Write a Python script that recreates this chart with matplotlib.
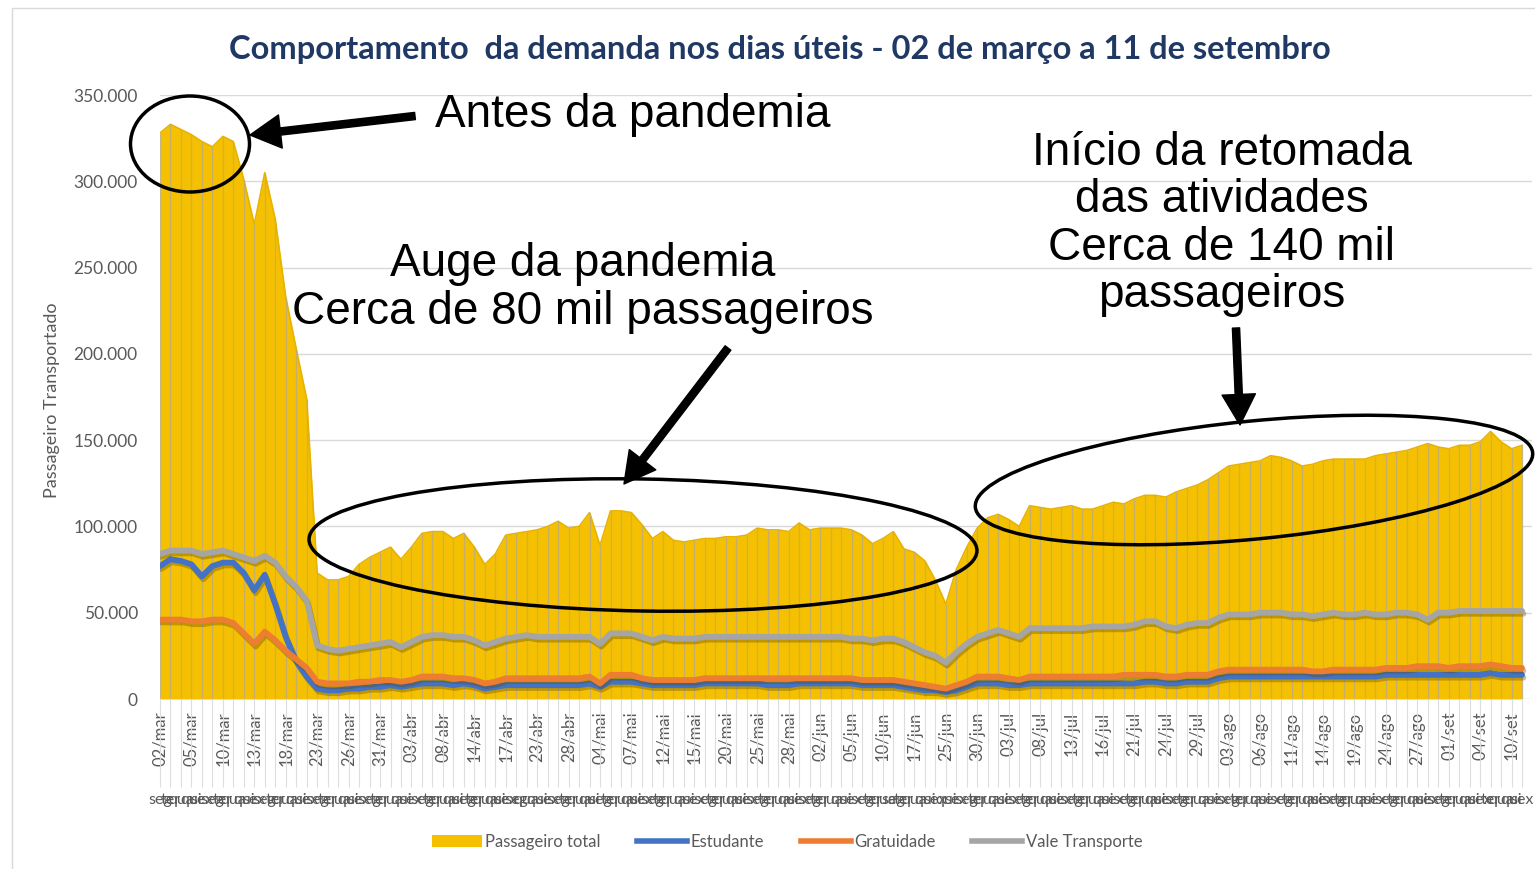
import matplotlib
matplotlib.use("Agg")
import matplotlib.pyplot as plt
import matplotlib.patheffects as pe
from matplotlib.patches import Ellipse, FancyArrowPatch, Rectangle, Patch
from matplotlib.lines import Line2D
from matplotlib.ticker import FuncFormatter
import numpy as np
import pandas as pd

plt.rcParams['font.family'] = ['Lato', 'DejaVu Sans']

# dias úteis com registro (feriados / dias sem dado fora da série)
feriados = ["2020-04-10", "2020-04-21", "2020-05-01", "2020-06-11", "2020-06-12",
            "2020-06-22", "2020-06-23", "2020-06-24", "2020-09-07"]
datas = pd.bdate_range("2020-03-02", "2020-09-11").drop(pd.to_datetime(feriados))
dias_semana = ["seg", "ter", "qua", "qui", "sex"]
dia_label = [dias_semana[d.weekday()] for d in datas]

tick_labels = ["02/mar", "05/mar", "10/mar", "13/mar", "18/mar", "23/mar", "26/mar", "31/mar",
               "03/abr", "08/abr", "14/abr", "17/abr", "23/abr", "28/abr",
               "04/mai", "07/mai", "12/mai", "15/mai", "20/mai", "25/mai", "28/mai",
               "02/jun", "05/jun", "10/jun", "17/jun", "25/jun", "30/jun",
               "03/jul", "08/jul", "13/jul", "16/jul", "21/jul", "24/jul", "29/jul",
               "03/ago", "06/ago", "11/ago", "14/ago", "19/ago", "24/ago", "27/ago",
               "01/set", "04/set", "10/set"]

# valores em milhares de passageiros
total = [328, 333, 330, 327, 323, 320, 326, 323, 301, 275,
         305, 278, 233, 203, 174, 73, 69, 69, 71, 78,
         82, 85, 88, 81, 88, 96, 97, 97, 93, 96,
         88, 78, 84, 95, 96, 97, 98, 100, 103, 99,
         100, 108, 89, 109, 109, 108, 101, 93, 97, 92,
         91, 92, 93, 93, 94, 94, 95, 99, 98, 98,
         97, 102, 98, 99, 99, 99, 98, 95, 90, 93,
         97, 87, 85, 80, 69, 55, 75, 88, 99, 105,
         107, 104, 100, 112, 111, 110, 111, 112, 110, 110,
         112, 114, 113, 116, 118, 118, 117, 120, 122, 124,
         127, 131, 135, 136, 137, 138, 141, 140, 138, 135,
         136, 138, 139, 139, 139, 139, 141, 142, 143, 144,
         146, 148, 146, 145, 147, 147, 149, 155, 149, 145,
         147]

estudante = [77, 81, 80, 78, 71, 77, 79, 79, 73, 63,
             72, 55, 36, 22, 13, 6, 5, 5, 6, 6,
             7, 7, 8, 7, 8, 9, 9, 9, 8, 9,
             8, 6, 7, 8, 8, 8, 8, 8, 8, 8,
             8, 9, 7, 10, 10, 10, 9, 8, 8, 8,
             8, 8, 9, 9, 9, 9, 9, 9, 8, 8,
             8, 9, 9, 9, 9, 9, 9, 8, 8, 8,
             8, 7, 6, 5, 5, 4, 5, 7, 9, 9,
             9, 8, 8, 9, 9, 9, 9, 9, 9, 9,
             9, 9, 9, 9, 10, 10, 9, 9, 10, 10,
             10, 12, 13, 13, 13, 13, 13, 13, 13, 13,
             13, 13, 13, 13, 13, 13, 13, 14, 14, 14,
             14, 14, 14, 14, 14, 14, 14, 15, 14, 14,
             14]

gratuidade = [46, 46, 46, 45, 45, 46, 46, 44, 38, 32,
              39, 34, 28, 23, 18, 10, 9, 9, 9, 10,
              10, 11, 11, 10, 11, 13, 13, 13, 12, 12,
              11, 9, 10, 12, 12, 12, 12, 12, 12, 12,
              12, 13, 9, 14, 14, 14, 12, 11, 11, 11,
              11, 11, 12, 12, 12, 12, 12, 12, 12, 12,
              12, 12, 12, 12, 12, 12, 12, 11, 11, 11,
              11, 10, 9, 8, 7, 6, 8, 10, 13, 13,
              13, 12, 11, 13, 13, 13, 13, 13, 13, 13,
              13, 13, 14, 14, 14, 14, 13, 13, 14, 14,
              14, 16, 17, 17, 17, 17, 17, 17, 17, 17,
              16, 16, 17, 17, 17, 17, 17, 18, 18, 18,
              19, 19, 19, 18, 19, 19, 19, 20, 19, 18,
              18]

vale = [84, 86, 86, 86, 84, 85, 86, 84, 82, 80,
        83, 79, 71, 65, 57, 31, 29, 28, 29, 30,
        31, 32, 33, 30, 33, 36, 37, 37, 36, 36,
        34, 31, 33, 35, 36, 37, 36, 36, 36, 36,
        36, 36, 32, 38, 38, 38, 36, 34, 36, 35,
        35, 35, 36, 36, 36, 36, 36, 36, 36, 36,
        36, 36, 36, 36, 36, 36, 35, 35, 34, 35,
        35, 33, 30, 27, 25, 21, 27, 32, 36, 38,
        40, 38, 36, 41, 41, 41, 41, 41, 41, 42,
        42, 42, 42, 43, 45, 45, 42, 41, 43, 44,
        44, 47, 49, 49, 49, 50, 50, 50, 49, 49,
        48, 49, 50, 49, 49, 50, 49, 49, 50, 50,
        49, 46, 50, 50, 51, 51, 51, 51, 51, 51,
        51]

W, H = 1535, 869
fig = plt.figure(figsize=(W / 100, H / 100), dpi=100)
ax = fig.add_axes([160 / W, 1 - 699 / H, (1532 - 160) / W, (699 - 95) / H])

x = np.arange(len(total))
tot = np.array(total) * 1000

ax.fill_between(x, tot, color="#F5C000", lw=0, zorder=2)
ax.plot(x, tot, color="#E8B200", lw=1.2, zorder=2)
ax.vlines(x, 0, tot, color="#B8A98A", lw=0.9, alpha=0.75, zorder=3)

shadow = [pe.SimpleLineShadow(offset=(1, -2), shadow_color="#5a4a00", alpha=0.35), pe.Normal()]
series = [(estudante, "#4472C4"), (gratuidade, "#ED7D31"), (vale, "#A5A5A5")]
for vals, cor in series:
    ax.plot(x, np.array(vals) * 1000, color=cor, lw=4.2, zorder=4, path_effects=shadow,
            solid_capstyle="round")

ax.set_xlim(0, 130.95)
ax.set_ylim(0, 350000)
ax.set_yticks(range(0, 350001, 50000))
ax.yaxis.set_major_formatter(FuncFormatter(lambda v, p: f"{int(v):,}".replace(",", ".")))
ax.grid(axis="y", color="#D9D9D9", lw=1)
ax.set_axisbelow(True)
for s in ax.spines.values():
    s.set_visible(False)
ax.tick_params(axis="y", length=0, pad=16, labelsize=12.5, labelcolor="#595959")

ax.set_xticks(x[::3])
ax.set_xticklabels(tick_labels, rotation=90)
ax.tick_params(axis="x", length=0, pad=9, labelsize=12, labelcolor="#595959")

# divisórias do eixo de categorias
ax.vlines(x, -0.145, 0, transform=ax.get_xaxis_transform(), clip_on=False,
          color="#DDDDDD", lw=0.8)
for i, d in enumerate(dia_label):
    ax.text(i, -0.167, d, transform=ax.get_xaxis_transform(), ha="center", va="center",
            fontsize=11.5, color="#595959")

fig.text(52 / W, 1 - 400 / H, "Passageiro Transportado", rotation=90, ha="center",
         va="center", fontsize=13, color="#595959")
fig.text(780 / W, 1 - 50 / H,
         "Comportamento  da demanda nos dias úteis - 02 de março a 11 de setembro",
         ha="center", va="center", fontsize=23.5, fontweight="bold", color="#1F3864")

handles = [Patch(facecolor="#F5C000"),
           Line2D([], [], color="#4472C4", lw=4),
           Line2D([], [], color="#ED7D31", lw=4),
           Line2D([], [], color="#A5A5A5", lw=4)]
fig.legend(handles, ["Passageiro total", "Estudante", "Gratuidade", "Vale Transporte"],
           loc="center", bbox_to_anchor=(787 / W, 1 - 842 / H), ncol=4, frameon=False,
           fontsize=12, handlelength=3, columnspacing=2.2, handletextpad=0.2,
           labelcolor="#595959")

# camada de anotações em pixels
ov = fig.add_axes([0, 0, 1, 1])
ov.set_xlim(0, W)
ov.set_ylim(H, 0)
ov.axis("off")
ov.patch.set_alpha(0)

ov.add_patch(Rectangle((12, 8), 1540, 900, fill=False, ec="#D9D9D9", lw=1))

ov.add_patch(Ellipse((190, 144), 119, 96, fill=False, ec="black", lw=2.5))
ov.add_patch(Ellipse((643, 545), 668, 132, angle=1, fill=False, ec="black", lw=2.5))
ov.add_patch(Ellipse((1254, 480), 560, 118, angle=-5.6, fill=False, ec="black", lw=2.5))

estilo = "simple,head_length=1.1,head_width=1.2,tail_width=0.26"
for a, b in [((415, 116), (250, 135)), ((728, 348), (624, 484)), ((1236, 328), (1240, 425))]:
    ov.add_patch(FancyArrowPatch(a, b, arrowstyle=estilo, mutation_scale=20,
                                 color="black", shrinkA=0, shrinkB=0))

fonte = dict(family="Liberation Sans", fontsize=33, color="black")
ov.text(435, 115, "Antes da pandemia", ha="left", va="center", **fonte)
ov.text(583, 288, "Auge da pandemia\nCerca de 80 mil passageiros", ha="center",
        va="center", linespacing=1.1, **fonte)
ov.text(1222, 224, "Início da retomada\ndas atividades\nCerca de 140 mil\npassageiros",
        ha="center", va="center", linespacing=1.1, **fonte)

fig.savefig("out.png", dpi=100)
